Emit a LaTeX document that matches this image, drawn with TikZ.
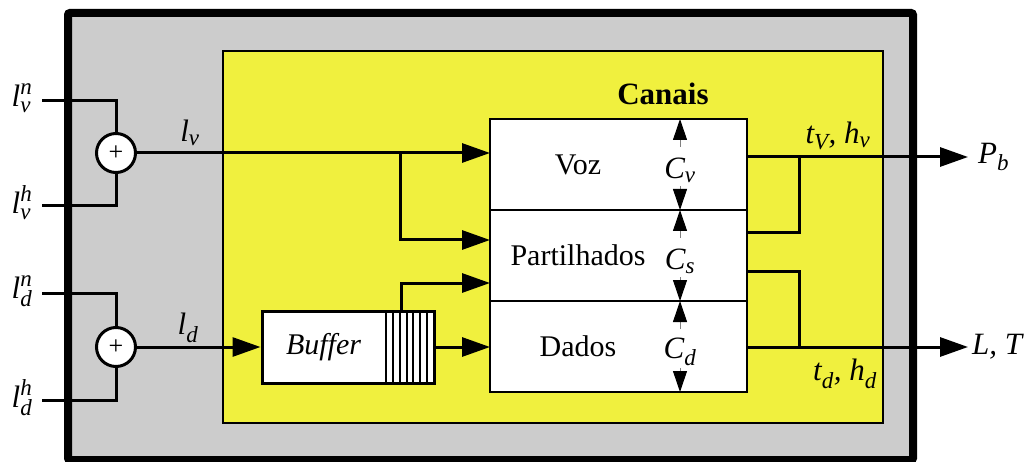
\documentclass[tikz,border=0pt]{standalone}
\usepackage{amsmath}
\usepackage{fontspec}
\setmainfont{Liberation Serif}
\usetikzlibrary{arrows.meta,calc}
\definecolor{outergray}{RGB}{204,204,204}
\definecolor{chanyellow}{RGB}{240,240,62}
\newcommand{\mi}[1]{\textit{#1}}
\DeclareMathSizes{31}{31}{23}{17}
\begin{document}
\begin{tikzpicture}[x=1pt,y=-1pt,
  every node/.style={font=\fontsize{30}{36}\selectfont},
  wire/.style={line width=3pt},
  arr/.style={wire,-{Triangle[length=28pt,width=19pt]}},
  carrow/.style={draw=gray,line width=1pt,-{Triangle[length=21pt,width=14pt,color=black]}},
  chan/.style={draw,line width=2pt,fill=white,minimum width=257pt,minimum height=91pt,inner sep=0pt,outer sep=0pt},
  sum/.style={circle,draw,line width=3pt,fill=white,minimum size=39pt,inner sep=0pt,font=\fontsize{26}{26}\selectfont},
  lab/.style={inner sep=0pt},
  mlab/.style={inner sep=0pt,font=\fontsize{31}{36}\selectfont}
]
\useasboundingbox (0,0) rectangle (1027,462);
% outer and inner frames
\node[draw,fill=outergray,line width=8pt,rounded corners=2pt,minimum width=845pt,minimum height=447pt,inner sep=0pt] (outer) at (490.5,236.5) {};
\node[draw,fill=chanyellow,line width=2pt,minimum width=660pt,minimum height=372pt,inner sep=0pt] (inner) at (552.6,236.8) {};
\node[lab,font=\bfseries\fontsize{31}{36}\selectfont] (canais) at (663,94) {Canais};
% channels
\node[chan] (voz) at (618.5,164.5) {};
\node[chan] (part) at (618.5,255.5) {};
\node[chan] (dados) at (618.5,346.5) {};
\node[lab] (vozt) at (578,164.5) {Voz};
\node[lab] (partt) at (578,255.5) {Partilhados};
\node[lab] (dadost) at (578,346.5) {Dados};
\node[mlab] (cv) at (680,170) {$\mi{C}_{\mi{v}}$};
\node[mlab] (cs) at (680,261) {$\mi{C}_{\mi{s}}$};
\node[mlab] (cd) at (680,352) {$\mi{C}_{\mi{d}}$};
\draw[carrow] ($(cv |- voz.north)+(0,28)$) -- (cv |- voz.north);
\draw[carrow] ($(cv |- voz.south)+(0,-24)$) -- (cv |- voz.south);
\draw[carrow] ($(cs |- part.north)+(0,28)$) -- (cs |- part.north);
\draw[carrow] ($(cs |- part.south)+(0,-24)$) -- (cs |- part.south);
\draw[carrow] ($(cd |- dados.north)+(0,28)$) -- (cd |- dados.north);
\draw[carrow] ($(cd |- dados.south)+(0,-24)$) -- (cd |- dados.south);
% summing junctions
\node[sum] (s1) at (116,153) {+};
\node[sum] (s2) at (116,347) {+};
\coordinate (lvn) at (42,101);
\coordinate (lvh) at (42,206);
\coordinate (ldn) at (42,293);
\coordinate (ldh) at (42,400);
\node[mlab] (lvnl) at (22,98) {$\mi{l}^{\mi{n}}_{\mi{v}}$};
\node[mlab] (lvhl) at (22,203) {$\mi{l}^{\mi{h}}_{\mi{v}}$};
\node[mlab] (ldnl) at (22,291) {$\mi{l}^{\mi{n}}_{\mi{d}}$};
\node[mlab] (ldhl) at (22,398) {$\mi{l}^{\mi{h}}_{\mi{d}}$};
\draw[wire] (lvn) -| (s1.north);
\draw[wire] (lvh) -| (s1.south);
\draw[wire] (ldn) -| (s2.north);
\draw[wire] (ldh) -| (s2.south);
\node[mlab] (lvl) at (190,133) {$\mi{l}_{\mi{v}}$};
\node[mlab] (ldl) at (188,328) {$\mi{l}_{\mi{d}}$};
% buffer
\node[draw,line width=3pt,fill=white,minimum width=172pt,minimum height=72pt,inner sep=0pt] (buf) at (348,347) {};
\node[lab,font=\itshape\fontsize{30}{36}\selectfont] (buft) at (323.5,347) {Buffer};
\foreach \xx in {386,393,400,407,413,420,427}
  \draw[line width=2.2pt] (\xx,311) -- (\xx,383);
% left connectors
\coordinate (br) at (400,153);
\coordinate (pin1) at (490,240);
\coordinate (bufo) at (401,311);
\coordinate (pin2) at (490,283);
\draw[arr] (s1.east) -- (s1.east -| voz.west);
\draw[arr] (br) |- (pin1);
\draw[arr] (s2.east) -- (buf.west);
\draw[arr] (bufo) |- (pin2);
\draw[arr] (buf.east) -- (buf.east -| dados.west);
% right connectors
\coordinate (vo) at (747,157);
\coordinate (po1) at (747,233);
\coordinate (po2) at (747,271);
\coordinate (do) at (747,347);
\coordinate (j1) at (799,157);
\coordinate (j2) at (799,347);
\coordinate (pb) at (968,157);
\coordinate (lt) at (968,347);
\draw[arr] (vo) -- (pb);
\draw[wire] (po1) -| (j1);
\draw[wire] (po2) -| (j2);
\draw[arr] (do) -- (lt);
\node[mlab] (tvl) at (838,136) {$\mi{t}_{\mi{V}}$\mi{,} $\mi{h}_{\mi{v}}$};
\node[mlab] (tdl) at (845,374) {$\mi{t}_{\mi{d}}$\mi{,} $\mi{h}_{\mi{d}}$};
\node[mlab,anchor=west] (pbl) at (978,157) {$\mi{P}_{\mi{b}}$};
\node[mlab,anchor=west] (ltl) at (972,347) {\mi{L, T}};
\end{tikzpicture}
\end{document}
